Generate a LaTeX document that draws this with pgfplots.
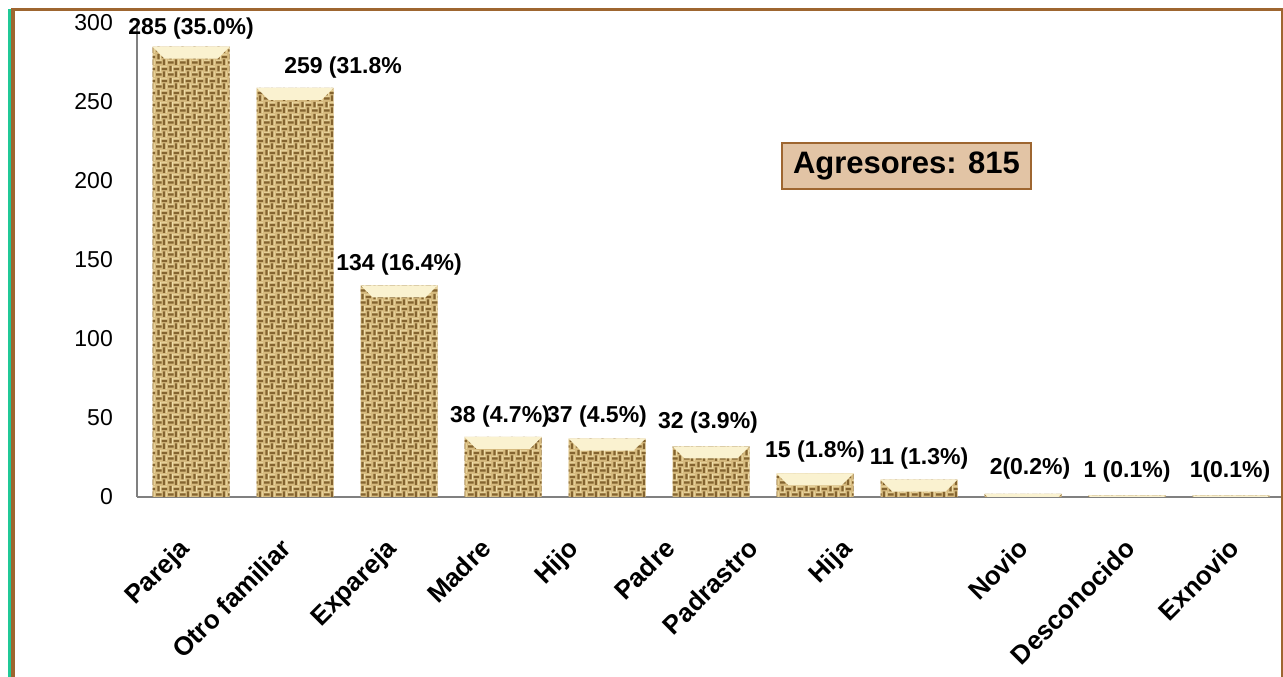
\documentclass[border=0pt]{standalone}
\usepackage{fontspec}
\setmainfont{Liberation Sans}
\usepackage{pgfplots}
\usepackage{pgfplotstable}
\pgfplotsset{compat=1.18}
\usetikzlibrary{patterns}

\definecolor{framebrown}{RGB}{158,102,48}
\definecolor{framegreen}{RGB}{32,201,151}
\definecolor{burlap}{RGB}{214,186,126}
\definecolor{thread}{RGB}{132,100,48}
\definecolor{strand}{RGB}{240,222,170}
\definecolor{cream}{RGB}{250,242,208}
\definecolor{boxfill}{RGB}{226,196,165}
\definecolor{axisgray}{RGB}{128,128,128}

% weave-like texture for the bars
\pgfdeclarepatternformonly{weave}{\pgfqpoint{0pt}{0pt}}{\pgfqpoint{12pt}{12pt}}{\pgfqpoint{12pt}{12pt}}{%
  \pgfpathrectangle{\pgfqpoint{0pt}{1.5pt}}{\pgfqpoint{6pt}{2.4pt}}%
  \pgfpathrectangle{\pgfqpoint{7.5pt}{0pt}}{\pgfqpoint{2.4pt}{6pt}}%
  \pgfpathrectangle{\pgfqpoint{6pt}{7.5pt}}{\pgfqpoint{6pt}{2.4pt}}%
  \pgfpathrectangle{\pgfqpoint{1.5pt}{6pt}}{\pgfqpoint{2.4pt}{6pt}}%
  \pgfusepath{fill}%
}
\pgfdeclarepatternformonly{strands}{\pgfqpoint{0pt}{0pt}}{\pgfqpoint{12pt}{12pt}}{\pgfqpoint{12pt}{12pt}}{%
  \pgfpathrectangle{\pgfqpoint{0pt}{4.6pt}}{\pgfqpoint{6pt}{1pt}}%
  \pgfpathrectangle{\pgfqpoint{10.6pt}{0pt}}{\pgfqpoint{1pt}{6pt}}%
  \pgfpathrectangle{\pgfqpoint{6pt}{10.6pt}}{\pgfqpoint{6pt}{1pt}}%
  \pgfpathrectangle{\pgfqpoint{4.6pt}{6pt}}{\pgfqpoint{1pt}{6pt}}%
  \pgfusepath{fill}%
}

% light bevel at the top of each bar
\pgfdeclareplotmark{bevel}{%
  \pgfpathmoveto{\pgfpoint{-38.5pt}{0pt}}%
  \pgfpathlineto{\pgfpoint{38.5pt}{0pt}}%
  \pgfpathlineto{\pgfpoint{38.5pt-\bevh pt}{-\bevh pt}}%
  \pgfpathlineto{\pgfpoint{-38.5pt+\bevh pt}{-\bevh pt}}%
  \pgfpathclose
  \pgfusepathqfill
}

\pgfplotstableread[row sep=\\]{
x y dx dy lbl \\
0 285 0 12 {285 (35.0\%)} \\
1 259 48 14 {259 (31.8\%} \\
2 134 0 15 {134 (16.4\%)} \\
3 38 -3 14 {38 (4.7\%)} \\
4 37 -10 16 {37 (4.5\%)} \\
5 32 -3 18 {32 (3.9\%)} \\
6 15 0 16 {15 (1.8\%)} \\
7 11 0 15 {11 (1.3\%)} \\
8 2 7 19 {2(0.2\%)} \\
9 1 0 18 {1 (0.1\%)} \\
10 1 -1 18 {1(0.1\%)} \\
}\agresores

\begin{document}
\begin{tikzpicture}
\path[use as bounding box] (0,0) rectangle (1283pt,677pt);

\begin{axis}[
  at={(137pt,180pt)}, anchor=south west,
  scale only axis, width=1146pt, height=474pt,
  xmin=-0.52, xmax=10.5, ymin=0, ymax=300,
  axis x line*=bottom, axis y line*=left,
  axis line style={axisgray, line width=1.5pt},
  major tick length=0pt,
  ytick={0,50,...,300},
  xtick={-0.13,0.85,1.86,2.77,3.61,4.54,5.34,6.24,7.94,8.97,9.97},
  xticklabels={Pareja,Otro familiar,Expareja,Madre,Hijo,Padre,Padrastro,Hija,Novio,Desconocido,Exnovio},
  xticklabel style={yshift=-40pt, rotate=45, anchor=north east, inner sep=0pt,
    font=\fontsize{26}{30}\selectfont\bfseries},
  yticklabel style={inner sep=0pt, xshift=-24pt, font=\fontsize{23}{27}\selectfont},
  /pgf/number format/assume math mode=true,
  clip=false,
]
\addplot[ybar, bar width=77pt, bar shift=0pt, fill=burlap, draw=none,
  postaction={pattern=weave, pattern color=thread},
  postaction={pattern=strands, pattern color=strand},
  point meta=explicit symbolic,
  visualization depends on={\thisrow{dx} \as \dx},
  visualization depends on={\thisrow{dy} \as \dy},
  nodes near coords,
  nodes near coords style={anchor=base, inner sep=0pt, text=black,
    font=\fontsize{23}{27}\selectfont\bfseries, xshift=\dx pt, yshift=\dy pt},
] table[x=x, y=y, meta=lbl] {\agresores};

\addplot[only marks, mark=bevel, mark options={fill=cream, draw=none},
  visualization depends on={min(12,\thisrow{y}*1.58) \as \bevh},
] table[x=x, y=y] {\agresores};
\end{axis}

\node[draw=framebrown, line width=2pt, fill=boxfill, minimum width=249pt,
  minimum height=46pt, inner sep=0pt, font=\fontsize{31}{36}\selectfont\bfseries]
  at (906.5pt,511pt) {Agresores: 815};

% outer frame
\draw[framebrown, line width=2.4pt] (11pt,667.5pt) -- (1283pt,667.5pt);
\draw[framebrown, line width=4pt] (13pt,668.7pt) -- (13pt,0pt);
\draw[framegreen, line width=2.7pt] (9.3pt,668pt) -- (9.3pt,0pt);
\draw[framebrown, line width=2pt] (1282pt,668.7pt) -- (1282pt,0pt);
\end{tikzpicture}
\end{document}
